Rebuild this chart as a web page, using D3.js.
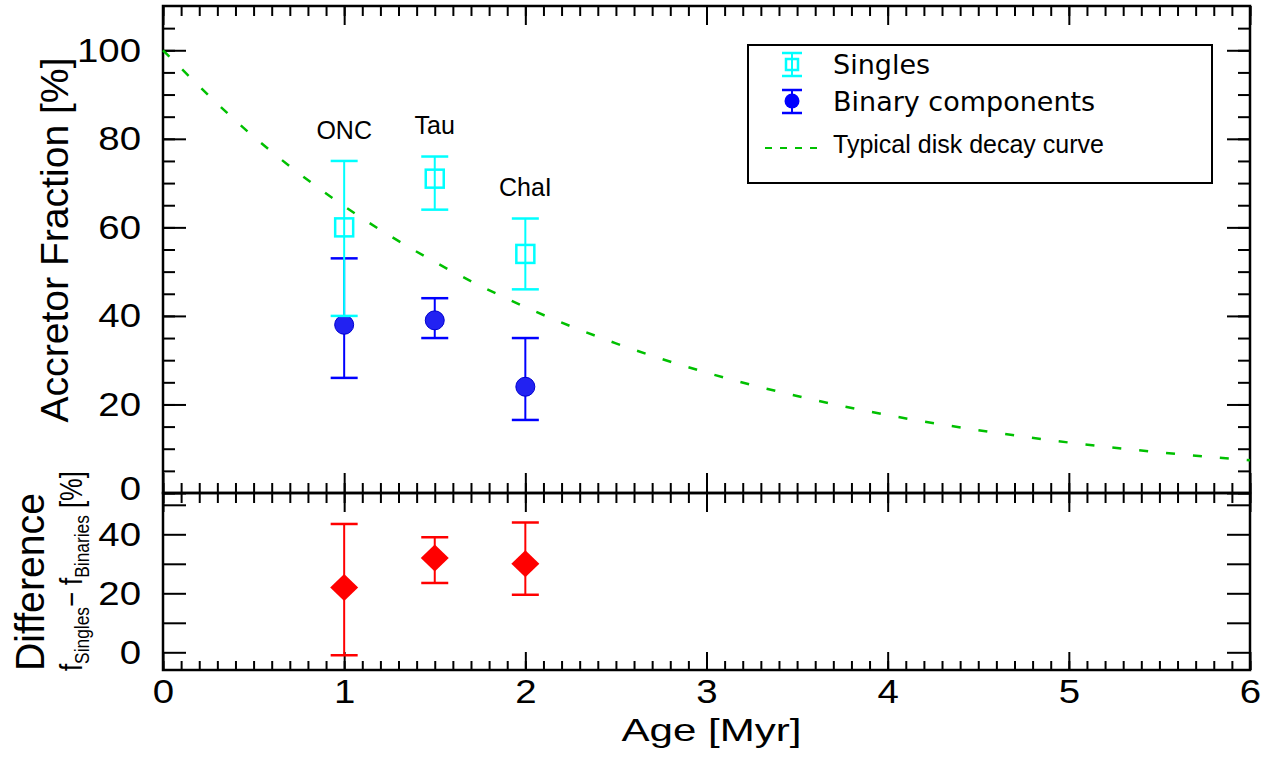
<!DOCTYPE html>
<html>
<head>
<meta charset="utf-8">
<title>Accretor fraction vs age</title>
<script src="https://cdn.jsdelivr.net/npm/d3@7"></script>
<style>
body { margin: 0; background: #fff; }
text { font-family: "Liberation Sans", Arial, sans-serif; fill: #000; }
</style>
</head>
<body>
<div id="chart"></div>
<script>
// star forming regions
var regions = ["ONC", "Tau", "ChaI"];
var ages = [1, 1.5, 2];
var labelY = [80, 81, 67];

// accretor fraction of singles [%]
var singles   = [60, 71, 54];
var singlesLo = [40, 64, 46];
var singlesHi = [75, 76, 62];

// accretor fraction of binary components [%]
var binaries   = [38, 39, 24];
var binariesLo = [26, 35, 16.5];
var binariesHi = [53, 44, 35];

// f_singles - f_binaries [%]
var diff   = [22, 32, 30];
var diffLo = [-1, 23.5, 19.5];
var diffHi = [43.5, 39, 44];

// typical disk decay curve
var curveAge  = [0, 0.5, 1, 1.5, 2, 2.5, 3, 3.5, 4, 4.5, 5, 5.5, 6];
var curveFrac = [100, 80.5, 64.8, 52.2, 42.0, 33.8, 27.2, 21.9, 17.6, 14.2, 11.4, 9.2, 7.4];

var xTicks = [0, 1, 2, 3, 4, 5, 6];
var xMinor = d3.range(0, 6.001, 0.1).map(function(d) { return +d.toFixed(1); });
var yTopTicks = [0, 20, 40, 60, 80, 100];
var yTopMinor = d3.range(0, 110, 5);
var yBotTicks = [0, 20, 40];
var yBotAll = [0, 10, 20, 30, 40, 50];

var W = 1271, H = 768;
var L = 163, R = 1250, T = 6, M = 493, B = 670;

var x = d3.scaleLinear().domain([0, 6]).range([L, R]);
var yTop = d3.scaleLinear().domain([0, 110]).range([M, T]);
var yBot = d3.scaleLinear().domain([-6, 54]).range([B, M]);

var svg = d3.select("#chart").append("svg")
	.attr("width", W)
	.attr("height", H);

var tickSx = 1.13;

function addX(y, axisFn, major, minor, labels) {
	var gMin = svg.append("g").attr("transform", "translate(0," + y + ")")
		.call(axisFn(x).tickValues(xMinor).tickSize(-minor).tickFormat(""));
	gMin.select(".domain").remove();
	var ax = axisFn(x).tickValues(xTicks).tickSize(-major);
	if (labels) ax.tickPadding(9).tickFormat(d3.format("d"));
	else ax.tickFormat("");
	var g = svg.append("g").attr("transform", "translate(0," + y + ")").call(ax);
	g.select(".domain").remove();
	return g;
}

function addY(xPos, axisFn, scale, majors, minors, major, minor, labels) {
	if (minors) {
		var gMin = svg.append("g").attr("transform", "translate(" + xPos + ",0)")
			.call(axisFn(scale).tickValues(minors).tickSize(-minor).tickFormat(""));
		gMin.select(".domain").remove();
	}
	var ax = axisFn(scale).tickValues(majors).tickSize(-major);
	if (labels) ax.tickPadding(22).tickFormat(function(d) { return labels.indexOf(d) >= 0 ? d : ""; });
	else ax.tickFormat("");
	var g = svg.append("g").attr("transform", "translate(" + xPos + ",0)").call(ax);
	g.select(".domain").remove();
	return g;
}

// upper panel axes
addX(M, d3.axisBottom, 20, 10, false);
addX(T, d3.axisTop, 19, 10, false);
var yTopAx = addY(L, d3.axisLeft, yTop, yTopTicks, yTopMinor, 23, 12, yTopTicks);
addY(R, d3.axisRight, yTop, yTopTicks, yTopMinor, 23, 12, null);

// lower panel axes
addX(M, d3.axisTop, 19, 10, false);
addX(B, d3.axisBottom, 18, 9, true);
addY(L, d3.axisLeft, yBot, yBotAll, null, 23, 0, yBotTicks);
addY(R, d3.axisRight, yBot, yBotAll, null, 23, 0, null);

svg.selectAll(".tick line").attr("stroke", "#000").attr("stroke-width", 2);
svg.selectAll(".tick text")
	.style("font-family", "'Liberation Sans', Arial, sans-serif")
	.style("font-size", "34px")
	.attr("fill", "#000")
	.attr("transform", "scale(" + tickSx + ",1)");
svg.selectAll(".tick text").filter(function() { return +d3.select(this).attr("x") < 0; })
	.attr("x", -22 / tickSx);
// the upper panel's zero sits a little above the shared axis
yTopAx.selectAll(".tick text").filter(function(d) { return d === 0; }).attr("dy", "0.18em");

// frames
svg.append("rect").attr("x", L).attr("y", T).attr("width", R - L).attr("height", M - T)
	.attr("fill", "none").attr("stroke", "#000").attr("stroke-width", 2.5);
svg.append("rect").attr("x", L).attr("y", M).attr("width", R - L).attr("height", B - M)
	.attr("fill", "none").attr("stroke", "#000").attr("stroke-width", 2.5);

// decay curve
var curveData = curveAge.map(function(a, i) { return [a, curveFrac[i]]; });
svg.append("path")
	.datum(curveData)
	.attr("d", d3.line().x(function(d) { return x(d[0]); }).y(function(d) { return yTop(d[1]); }).curve(d3.curveMonotoneX))
	.attr("fill", "none")
	.attr("stroke", "#00c000")
	.attr("stroke-width", 2.5)
	.attr("stroke-dasharray", "9,18");

function errBars(g, scale, vals, lo, hi, color) {
	var cap = 13.5;
	ages.forEach(function(a, i) {
		var cx = x(a);
		g.append("line").attr("x1", cx).attr("x2", cx).attr("y1", scale(lo[i])).attr("y2", scale(hi[i]))
			.attr("stroke", color).attr("stroke-width", 2);
		[lo[i], hi[i]].forEach(function(v) {
			g.append("line").attr("x1", cx - cap).attr("x2", cx + cap).attr("y1", scale(v)).attr("y2", scale(v))
				.attr("stroke", color).attr("stroke-width", 2.5);
		});
	});
}

// binaries
var gBin = svg.append("g");
errBars(gBin, yTop, binaries, binariesLo, binariesHi, "#0000ff");
gBin.selectAll("circle").data(binaries).enter().append("circle")
	.attr("cx", function(d, i) { return x(ages[i]); })
	.attr("cy", function(d) { return yTop(d); })
	.attr("r", 9.5)
	.attr("fill", "#2222f2")
	.attr("stroke", "#0000d0")
	.attr("stroke-width", 1);

// singles
var gSin = svg.append("g");
errBars(gSin, yTop, singles, singlesLo, singlesHi, "#00ffff");
gSin.selectAll("rect").data(singles).enter().append("rect")
	.attr("x", function(d, i) { return x(ages[i]) - 9; })
	.attr("y", function(d) { return yTop(d) - 9; })
	.attr("width", 18).attr("height", 18)
	.attr("fill", "none")
	.attr("stroke", "#00ffff")
	.attr("stroke-width", 2.5);

// region labels
svg.selectAll(".reg").data(regions).enter().append("text")
	.attr("class", "reg")
	.attr("x", function(d, i) { return x(ages[i]); })
	.attr("y", function(d, i) { return yTop(labelY[i]); })
	.attr("text-anchor", "middle")
	.style("font-size", "25px")
	.text(function(d) { return d; });

// difference panel
var gDiff = svg.append("g");
errBars(gDiff, yBot, diff, diffLo, diffHi, "#ff0000");
gDiff.selectAll("path.dia").data(diff).enter().append("path")
	.attr("class", "dia")
	.attr("transform", function(d, i) { return "translate(" + x(ages[i]) + "," + yBot(d) + ")"; })
	.attr("d", "M0,-13.5L14,0L0,13.5L-14,0Z")
	.attr("fill", "#ff0000");

// legend
var lg = svg.append("g");
lg.append("rect").attr("x", 748).attr("y", 45).attr("width", 464).attr("height", 138)
	.attr("fill", "#fff").attr("stroke", "#000").attr("stroke-width", 2);
// singles symbol
lg.append("line").attr("x1", 792).attr("x2", 792).attr("y1", 53).attr("y2", 76).attr("stroke", "#00ffff").attr("stroke-width", 2);
lg.append("line").attr("x1", 782).attr("x2", 802).attr("y1", 53).attr("y2", 53).attr("stroke", "#00ffff").attr("stroke-width", 2.5);
lg.append("line").attr("x1", 782).attr("x2", 802).attr("y1", 76).attr("y2", 76).attr("stroke", "#00ffff").attr("stroke-width", 2.5);
lg.append("rect").attr("x", 786).attr("y", 59).attr("width", 12).attr("height", 11)
	.attr("fill", "none").attr("stroke", "#00ffff").attr("stroke-width", 2.5);
// binary symbol
lg.append("line").attr("x1", 792).attr("x2", 792).attr("y1", 90).attr("y2", 113).attr("stroke", "#0000ff").attr("stroke-width", 2);
lg.append("line").attr("x1", 782).attr("x2", 802).attr("y1", 90).attr("y2", 90).attr("stroke", "#0000ff").attr("stroke-width", 2.5);
lg.append("line").attr("x1", 782).attr("x2", 802).attr("y1", 113).attr("y2", 113).attr("stroke", "#0000ff").attr("stroke-width", 2.5);
lg.append("circle").attr("cx", 792).attr("cy", 101).attr("r", 7.5).attr("fill", "#0000ff");
// curve symbol
lg.append("line").attr("x1", 765).attr("x2", 817).attr("y1", 148).attr("y2", 148)
	.attr("stroke", "#00c000").attr("stroke-width", 1.8).attr("stroke-dasharray", "7,8");
lg.append("text").attr("x", 833).attr("y", 74).style("font-family", "'DejaVu Sans', sans-serif").style("font-size", "27px").text("Singles");
lg.append("text").attr("x", 833).attr("y", 111).style("font-family", "'DejaVu Sans', sans-serif").style("font-size", "27px").text("Binary components");
lg.append("text").attr("x", 833).attr("y", 153).style("font-size", "25px").text("Typical disk decay curve");

// axis titles
svg.append("text")
	.attr("x", x(3) + 5).attr("y", 741)
	.attr("text-anchor", "middle")
	.attr("textLength", 180).attr("lengthAdjust", "spacingAndGlyphs")
	.style("font-size", "32px")
	.text("Age [Myr]");

svg.append("text")
	.attr("transform", "translate(68,240) rotate(-90)")
	.attr("text-anchor", "middle")
	.attr("textLength", 365).attr("lengthAdjust", "spacingAndGlyphs")
	.style("font-size", "38px")
	.text("Accretor Fraction [%]");

svg.append("text")
	.attr("transform", "translate(44,582) rotate(-90)")
	.attr("text-anchor", "middle")
	.attr("textLength", 178).attr("lengthAdjust", "spacingAndGlyphs")
	.style("font-size", "40px")
	.text("Difference");

var sub = svg.append("text")
	.attr("transform", "translate(82,571) rotate(-90)")
	.attr("text-anchor", "middle")
	.attr("textLength", 200).attr("lengthAdjust", "spacingAndGlyphs")
	.style("font-size", "31px");
sub.append("tspan").text("f");
sub.append("tspan").attr("dy", 7).style("font-size", "21px").text("Singles");
sub.append("tspan").attr("dy", -7).text("\u2212 f");
sub.append("tspan").attr("dy", 7).style("font-size", "21px").text("Binaries");
sub.append("tspan").attr("dy", -7).text(" [%]");
</script>
</body>
</html>
